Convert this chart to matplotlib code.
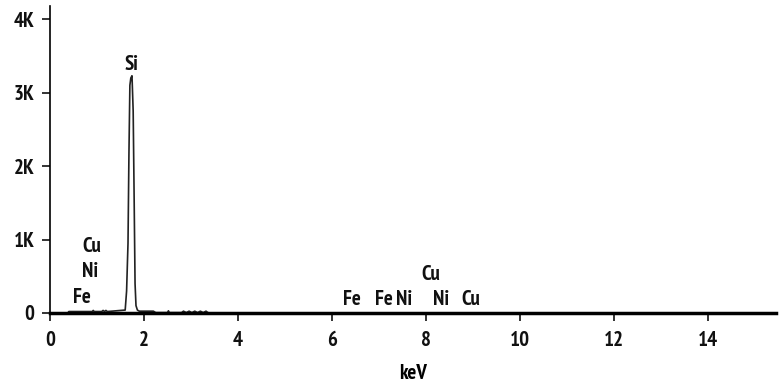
import matplotlib
matplotlib.use("Agg")
import matplotlib.pyplot as plt
from matplotlib.ticker import FixedLocator

# Spectrum (keV, counts)
energy = [0.00, 0.38, 0.40, 0.90, 0.92, 0.94, 1.10, 1.13, 1.16, 1.19, 1.22, 1.60,
          1.63, 1.66, 1.68, 1.70, 1.72, 1.745, 1.77, 1.79, 1.81, 1.83, 1.86, 1.90,
          2.20, 2.25, 2.50, 2.52, 2.54, 2.80, 2.84, 2.90, 2.96, 3.02, 3.08, 3.14,
          3.20, 3.26, 3.32, 3.36, 3.40, 15.45]
counts = [0, 0, 20, 20, 35, 20, 20, 35, 20, 35, 20, 40,
          300, 950, 2170, 3100, 3200, 3230, 2750, 1600, 400, 100, 40, 25,
          25, 5, 5, 30, 5, 5, 25, 5, 25, 5, 25, 5,
          25, 5, 25, 5, 0, 0]

# Peak labels
peak_labels = ["Si", "Cu", "Ni", "Fe", "Fe", "Fe", "Ni", "Cu", "Ni", "Cu"]
label_x = [1.74, 0.89, 0.85, 0.68, 6.43, 7.10, 7.53, 8.10, 8.33, 8.95]
label_y = [3380, 910, 570, 210, 190, 190, 190, 530, 190, 190]

x_ticks = [0, 2, 4, 6, 8, 10, 12, 14]
y_ticks = [0, 1000, 2000, 3000, 4000]
y_tick_labels = ["0", "1K", "2K", "3K", "4K"]

fam = ["PT Sans Narrow", "Archivo Narrow", "DejaVu Sans"]
plt.rcParams["font.family"] = fam
plt.rcParams["font.weight"] = "bold"

fig = plt.figure(figsize=(7.82, 3.83), dpi=100)
ax = fig.add_axes([50/782, 1 - 313/383, (776-50)/782, (313-6)/383])

ax.plot(energy, counts, color="#222222", lw=1.2)
for t, x, y in zip(peak_labels, label_x, label_y):
    ax.text(x, y, t, ha="center", va="center", fontsize=15, fontweight="bold",
            color="#111111", family=fam)

ax.set_xlim(0, 15.45)
ax.set_ylim(0, 4180)
ax.xaxis.set_major_locator(FixedLocator(x_ticks))
ax.yaxis.set_major_locator(FixedLocator(y_ticks))
ax.set_yticklabels(y_tick_labels)
ax.tick_params(axis="both", direction="out", length=6, width=1.2, labelsize=15,
               colors="#111111")
ax.tick_params(axis="x", pad=7)
ax.tick_params(axis="y", pad=5)
for lab in ax.get_xticklabels() + ax.get_yticklabels():
    lab.set_fontweight("bold")
ax.spines["top"].set_visible(False)
ax.spines["right"].set_visible(False)
ax.spines["bottom"].set_linewidth(2.5)
ax.spines["left"].set_linewidth(1.2)
ax.set_xlabel("keV", fontsize=15, fontweight="bold", labelpad=10)

fig.savefig("out.png", dpi=100)
